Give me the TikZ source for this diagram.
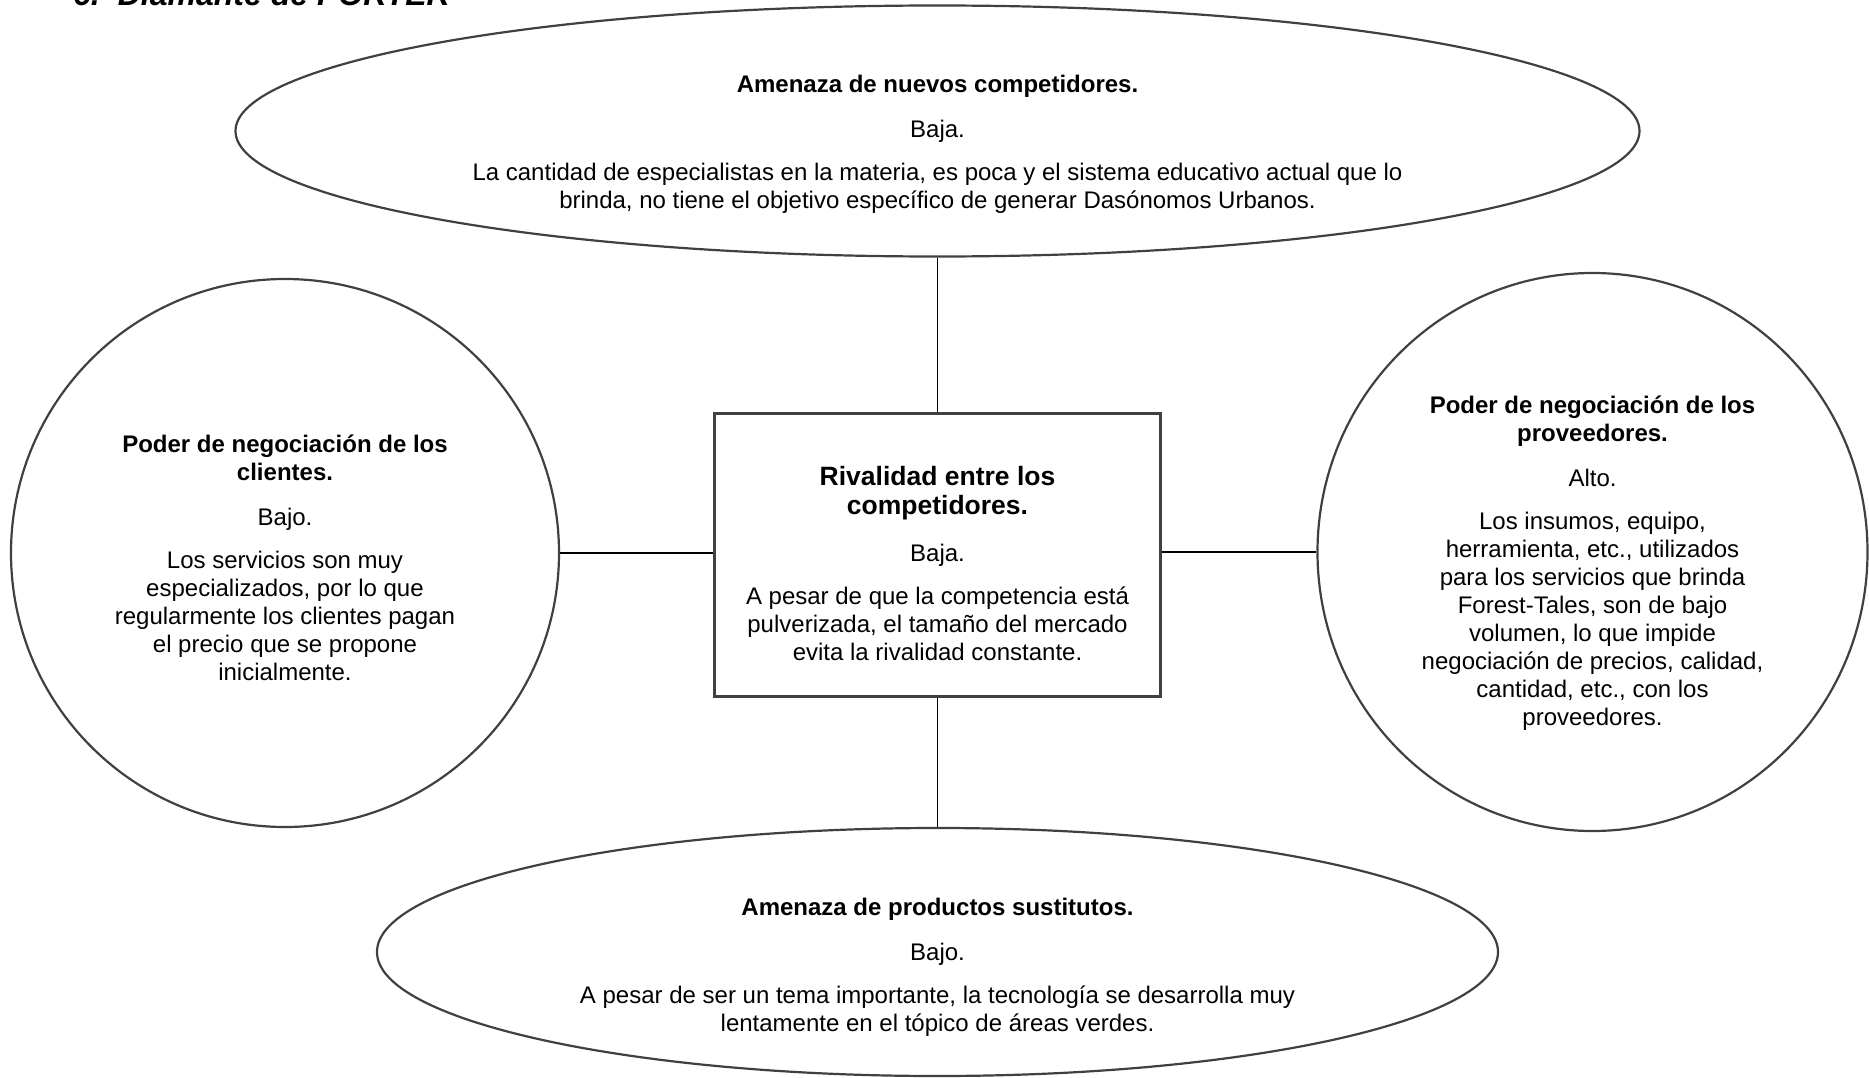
\documentclass[tikz,border=0pt]{standalone}
\usepackage{fontspec}
\setmainfont{Liberation Sans}
\usetikzlibrary{shapes.geometric}
\definecolor{borde}{gray}{0.25}
\newcommand{\grande}{\fontsize{26.5}{30}\selectfont\bfseries}

\begin{document}
\begin{tikzpicture}[x=1pt,y=-1pt,
  forma/.style={draw=borde,line width=2.2pt,inner sep=0pt},
  texto/.style={align=center,inner sep=0pt,font=\fontsize{24}{28}\selectfont},
  enlace/.style={draw=black,line width=1.1pt}]
  \useasboundingbox (0,0) rectangle (1869,1078);
  \node (titulo) at (73,5.5) [anchor=base west,inner sep=0pt,font=\fontsize{32}{36}\selectfont\bfseries\itshape] {6.\hspace{18pt}Diamante de PORTER};

  \node (nuevos) at (937.5,131) [forma,ellipse,minimum width=1404pt,minimum height=251pt] {};
  \node (clientes) at (285,553) [forma,circle,minimum size=548pt] {};
  \node (rivalidad) at (937.5,555) [forma,rectangle,minimum width=446pt,minimum height=283pt] {};
  \node (proveedores) at (1592.5,552) [forma,ellipse,minimum width=550pt,minimum height=558pt] {};
  \node (sustitutos) at (937.5,952) [forma,ellipse,minimum width=1121pt,minimum height=248pt] {};

  \node (nuevos-txt) at (937.5,144) [texto] {\textbf{Amenaza de nuevos competidores.}\\[17pt]Baja.\\[15pt]La cantidad de especialistas en la materia, es poca y el sistema educativo actual que lo\\brinda, no tiene el objetivo específico de generar Dasónomos Urbanos.};
  \node (clientes-txt) at (285,558) [texto] {\textbf{Poder de negociación de los}\\\textbf{clientes.}\\[17pt]Bajo.\\[15pt]Los servicios son muy\\especializados, por lo que\\regularmente los clientes pagan\\el precio que se propone\\inicialmente.};
  \node (rivalidad-txt) at (937.5,564) [texto] {{\grande Rivalidad entre los}\\[1pt]{\grande competidores.}\\[19pt]Baja.\\[15pt]A pesar de que la competencia está\\pulverizada, el tamaño del mercado\\evita la rivalidad constante.};
  \node (proveedores-txt) at (1592.5,563) [texto] {\textbf{Poder de negociación de los}\\\textbf{proveedores.}\\[17pt]Alto.\\[15pt]Los insumos, equipo,\\herramienta, etc., utilizados\\para los servicios que brinda\\Forest-Tales, son de bajo\\volumen, lo que impide\\negociación de precios, calidad,\\cantidad, etc., con los\\proveedores.};
  \node (sustitutos-txt) at (937.5,967) [texto] {\textbf{Amenaza de productos sustitutos.}\\[17pt]Bajo.\\[15pt]A pesar de ser un tema importante, la tecnología se desarrolla muy\\lentamente en el tópico de áreas verdes.};

  \draw[enlace] (nuevos) to (rivalidad);
  \draw[enlace] (rivalidad) to (sustitutos);
  \draw[enlace] (clientes.east) to (clientes.east -| rivalidad.west);
  \draw[enlace] (rivalidad.east |- proveedores.west) to (proveedores.west);
\end{tikzpicture}
\end{document}
